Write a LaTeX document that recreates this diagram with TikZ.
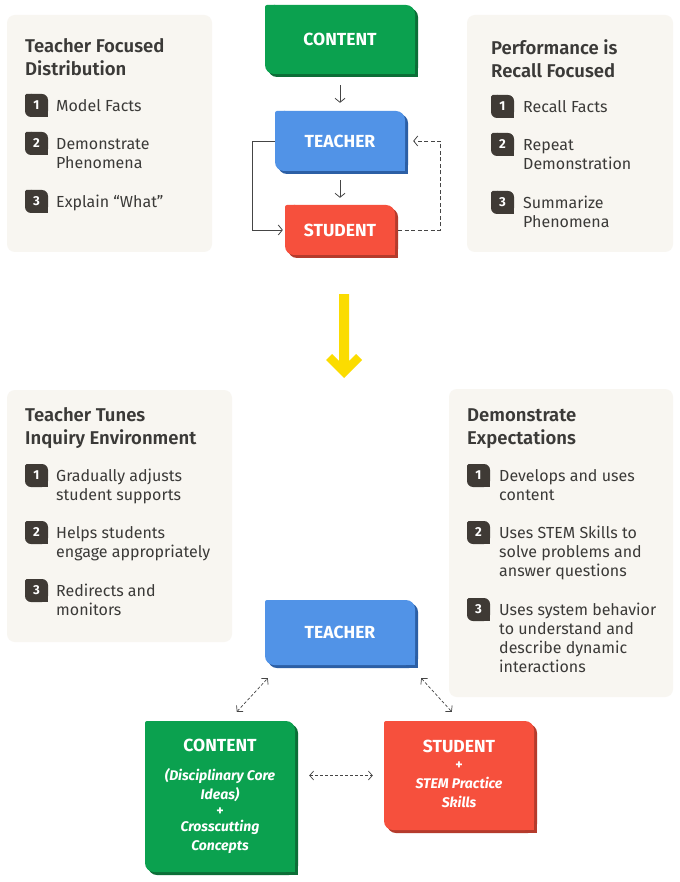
\documentclass[tikz,border=0pt]{standalone}
\usepackage{fontspec}
\setmainfont{Fira Sans}
\newfontfamily\semib{Fira Sans SemiBold}
\usetikzlibrary{arrows.meta,calc}
\definecolor{txtc}{HTML}{3B3A38}
\definecolor{badgec}{HTML}{3F3A35}
\definecolor{panelc}{HTML}{F8F6F1}
\definecolor{gboxc}{HTML}{0BA14F}
\definecolor{gshc}{HTML}{0C6E37}
\definecolor{bboxc}{HTML}{5193E7}
\definecolor{bshc}{HTML}{2C5FA5}
\definecolor{rboxc}{HTML}{F6503D}
\definecolor{rshc}{HTML}{B53B2C}
\definecolor{yelc}{HTML}{FBDC00}
\definecolor{linec}{HTML}{454545}
\tikzset{
  paneltitle/.style={anchor=north west,inner sep=0pt,align=left,text=txtc,font=\fontsize{18.5}{23}\selectfont\semib},
  itemtxt/.style={anchor=north west,inner sep=0pt,align=left,text=txtc,font=\fontsize{16}{19}\selectfont},
  numtxt/.style={inner sep=0pt,text=white,font=\fontsize{13}{14}\selectfont\bfseries},
  boxlbl/.style={inner sep=0pt,align=center,text=white,font=\fontsize{17.5}{19}\selectfont\bfseries},
  arr/.style={draw=linec,line width=0.8pt,-{Straight Barb[length=4pt,width=10pt]}},
  darr/.style={draw=linec,line width=0.7pt,dash pattern=on 3pt off 2pt,{Straight Barb[length=4pt,width=9pt]}-{Straight Barb[length=4pt,width=9pt]}},
}
\newcommand\cshape[6]{%
  \fill[#6,rounded corners=9pt] (#1+3,#2+3) rectangle (#3+3,#4+3);
  \fill[#6] (#3+3,#4+3) rectangle (#3-7,#4-7);
  \fill[#5,rounded corners=9pt] (#1,#2) rectangle (#3,#4);
  \fill[#5,rounded corners=2pt] (#1,#2) rectangle (#1+12,#2+12);
  \fill[#5] (#3,#4) rectangle (#3-12,#4-12);
}
\newcommand\itm[6]{%
  \fill[badgec,rounded corners=6pt] (#2,#3) rectangle (#2+23,#3+23);
  \fill[badgec,rounded corners=1.5pt] (#2,#3) rectangle (#2+8,#3+8);
  \fill[badgec] (#2+23,#3+23) rectangle (#2+15,#3+15);
  \node[numtxt] (#1n) at (#2+11.5,#3+11.5) {#4};
  \node[itemtxt] (#1t) at (#5,#3+5) {\rule{0pt}{12pt}#6};
}
\newcommand\subt{\fontsize{14}{19}\selectfont}
\begin{document}
\begin{tikzpicture}[x=1pt,y=-1pt]
\useasboundingbox (0,0) rectangle (679,882);
\fill[white] (0,0) rectangle (679,882);
% panels
\fill[panelc,rounded corners=8pt] (7,15) rectangle (212,252);
\fill[panelc,rounded corners=8pt] (467,15) rectangle (673,252);
\fill[panelc,rounded corners=8pt] (7,390) rectangle (232,642);
\fill[panelc,rounded corners=8pt] (449,389) rectangle (673,697);
% top-left panel
\node[paneltitle] (tlt) at (25,38) {\rule{0pt}{14pt}Teacher Focused\\Distribution};
\itm{tla}{25}{94}{1}{56}{Model Facts}
\itm{tlb}{25}{132}{2}{56}{Demonstrate\\Phenomena}
\itm{tlc}{25}{190}{3}{56}{Explain “What”}
% top-right panel
\node[paneltitle] (trt) at (491,39) {\rule{0pt}{14pt}Performance is\\Recall Focused};
\itm{tra}{491}{95}{1}{523}{Recall Facts}
\itm{trb}{491}{133}{2}{523}{Repeat\\Demonstration}
\itm{trc}{491}{191}{3}{523}{Summarize\\Phenomena}
% bottom-left panel
\node[paneltitle] (blt) at (25,407) {\rule{0pt}{14pt}Teacher Tunes\\Inquiry Environment};
\itm{bla}{25}{464}{1}{56}{Gradually adjusts\\student supports}
\itm{blb}{25}{521}{2}{56}{Helps students\\engage appropriately}
\itm{blc}{25}{579}{3}{56}{Redirects and\\monitors}
% bottom-right panel
\node[paneltitle] (brt) at (467,407) {\rule{0pt}{14pt}Demonstrate\\Expectations};
\itm{bra}{467}{464}{1}{499}{Develops and uses\\content}
\itm{brb}{467}{521}{2}{499}{Uses STEM Skills to\\solve problems and\\answer questions}
\itm{brc}{467}{598}{3}{499}{Uses system behavior\\to understand and\\describe dynamic\\interactions}
% top flow
\cshape{265}{5}{415}{74}{gboxc}{gshc}
\node[boxlbl,minimum width=150pt,minimum height=69pt] (c1) at (340,39.5) {CONTENT};
\cshape{275}{111}{405}{171}{bboxc}{bshc}
\node[boxlbl,minimum width=130pt,minimum height=60pt] (t1) at (340,141) {TEACHER};
\cshape{285}{205}{395}{255}{rboxc}{rshc}
\node[boxlbl,minimum width=110pt,minimum height=50pt] (s1) at (340,230) {STUDENT};
\draw[arr] ([yshift=-11pt]c1.south) -- ([yshift=8pt]t1.north);
\draw[arr] ([yshift=-9pt]t1.south) -- ([yshift=7pt]s1.north);
\draw[arr] (t1.west) -- ++(-22,0) |- ([xshift=-2pt]s1.west);
\draw[arr,dash pattern=on 4pt off 2.5pt] ([xshift=3pt]s1.east) -- ++(42,0) |- ([xshift=8pt]t1.east);
% yellow arrow
\fill[yelc] (339,294) -- (349,294) -- (349,361) -- (356,354) -- (362,360) -- (344,378) -- (326,360) -- (332,354) -- (339,361) -- cycle;
% bottom flow
\cshape{265}{600}{415}{665}{bboxc}{bshc}
\node[boxlbl,minimum width=150pt,minimum height=65pt] (t2) at (340,632.5) {TEACHER};
\cshape{145}{721}{295}{872}{gboxc}{gshc}
\node[boxlbl,minimum width=150pt,minimum height=151pt] (c2) at (220,796.5) {CONTENT\\[10pt]%
{\subt\itshape (Disciplinary Core}\\%
{\subt\itshape Ideas)}\\[-3pt]%
{\subt +}\\[-3pt]%
{\subt\itshape Crosscutting}\\%
{\subt\itshape Concepts}};
\cshape{384}{721}{534}{830}{rboxc}{rshc}
\node[boxlbl,minimum width=150pt,minimum height=109pt] (s2) at (459,773.5) {STUDENT\\[-2pt]%
{\subt +}\\%
{\subt\itshape STEM Practice}\\%
{\subt\itshape Skills}};
\draw[darr] ($(c2.north west)+(92,-9)$) -- ($(t2.south west)+(3,13)$);
\draw[darr] ($(t2.south east)+(6,13)$) -- ($(s2.north west)+(68,-7)$);
\draw[darr] ($(c2.east |- s2.west)+(14,2)$) -- ($(s2.west)+(-11,2)$);
\end{tikzpicture}
\end{document}
